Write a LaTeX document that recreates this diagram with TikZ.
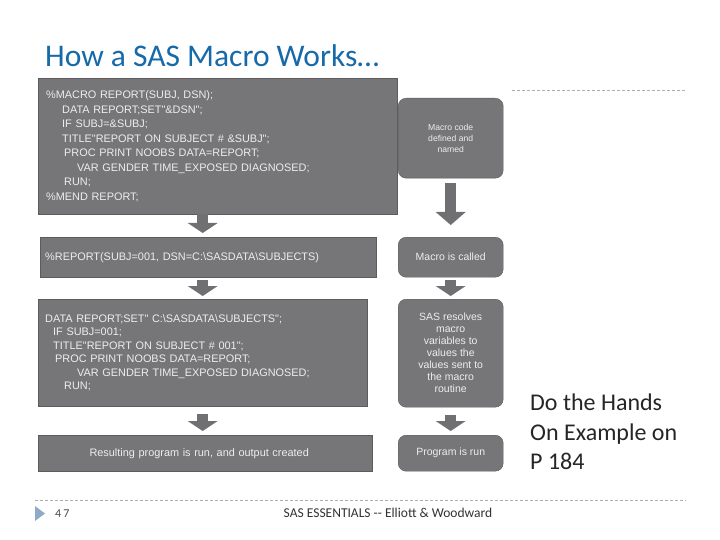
\documentclass[tikz,border=0pt]{standalone}
\usepackage{fontspec}
\setmainfont{Carlito}
\newfontfamily\codefont{Liberation Sans}
\usetikzlibrary{arrows.meta}

\definecolor{boxgray}{RGB}{118,118,120}
\definecolor{boxedge}{RGB}{92,92,94}
\definecolor{arrowgray}{RGB}{112,112,114}
\definecolor{titleblue}{RGB}{23,106,170}
\definecolor{rulegray}{RGB}{175,175,175}
\definecolor{footblue}{RGB}{141,170,200}

\newcommand{\ind}[1]{\hspace*{#1pt}}

\tikzset{
	codebox/.style={draw=boxedge, fill=boxgray, text=white!93!black, anchor=north west,
		inner ysep=0pt, align=left, font=\codefont\fontsize{10.9}{14.5}\selectfont},
	stepbox/.style={draw=boxedge, fill=boxgray, text=white!93!black, anchor=north west,
		rounded corners=8pt, minimum width=105pt, inner sep=0pt, align=center,
		font=\codefont\fontsize{10.5}{12}\selectfont},
	flowarrow/.style={draw=arrowgray, line width=11pt,
		-{Triangle[width=30pt,length=10pt,line width=0pt]}},
}

\begin{document}
\begin{tikzpicture}[x=1pt, y=-1pt]
	\useasboundingbox[fill=white] (0,0) rectangle (720,540);

	% title and side note
	\node[anchor=base west, inner sep=0pt, text=titleblue,
		font=\fontsize{31.5}{33}\selectfont] (title) at (45,67) {How a SAS Macro Works…};
	\node[anchor=north west, inner sep=0pt, align=left, text=black!85,
		font=\fontsize{24}{29.5}\selectfont] (handson) at (530,394)
		{Do the Hands\\On Example on\\P 184};

	% left column: the code
	\node[codebox, inner xsep=8pt, text width=343pt, minimum height=136pt] (macrodef) at (38,78)
		{\%MACRO REPORT(SUBJ, DSN);\\
		\ind{16}DATA REPORT;SET"\&DSN";\\
		\ind{16}IF SUBJ=\&SUBJ;\\
		\ind{16}TITLE"REPORT ON SUBJECT \# \&SUBJ";\\
		\ind{18}PROC PRINT NOOBS DATA=REPORT;\\
		\ind{31}VAR GENDER TIME\_EXPOSED DIAGNOSED;\\
		\ind{18}RUN;\\
		\%MEND REPORT;};
	\node[codebox, inner xsep=5pt, text width=326pt, minimum height=40pt] (invoke) at (40,237)
		{\%REPORT(SUBJ=001, DSN=C:\textbackslash SASDATA\textbackslash SUBJECTS)};
	\node[codebox, inner xsep=7pt, text width=315pt, minimum height=107pt,
		font=\codefont\fontsize{10.9}{13.4}\selectfont] (expanded) at (38,299)
		{DATA REPORT;SET" C:\textbackslash SASDATA\textbackslash SUBJECTS";\\
		\ind{8}IF SUBJ=001;\\
		\ind{8}TITLE"REPORT ON SUBJECT \# 001";\\
		\ind{10}PROC PRINT NOOBS DATA=REPORT;\\
		\ind{32}VAR GENDER TIME\_EXPOSED DIAGNOSED;\\
		\ind{19}RUN;};
	\node[codebox, inner xsep=7pt, text width=320pt, minimum height=36pt, align=center] (output) at (38,435)
		{Resulting program is run, and output created\hspace*{12pt}};

	% right column: the steps
	\node[stepbox, minimum height=80pt, font=\codefont\fontsize{8.6}{11}\selectfont] (defined) at (398,98)
		{Macro code\\defined and\\named};
	\node[stepbox, minimum height=40pt] (called) at (398,237) {Macro is called};
	\node[stepbox, minimum height=108pt] (resolved) at (398,299)
		{SAS resolves\\macro\\variables to\\values the\\values sent to\\the macro\\routine};
	\node[stepbox, minimum height=36pt] (runs) at (398,435) {Program is run};

	% arrows
	\draw[flowarrow, shorten >=4pt] (macrodef.south -| expanded.south) -- (invoke.north -| expanded.south);
	\draw[flowarrow, shorten <=3pt, shorten >=3pt] (invoke.south -| expanded.south) -- (expanded.north);
	\draw[flowarrow, shorten <=8pt, shorten >=4pt] (expanded.south) -- (output.north -| expanded.south);
	\draw[flowarrow, -{Triangle[width=30pt,length=13pt,line width=0pt]}, shorten <=5pt, shorten >=12pt] (defined.south) -- (called.north);
	\draw[flowarrow, shorten <=3pt, shorten >=3pt] (called.south) -- (resolved.north);
	\draw[flowarrow, shorten <=8pt, shorten >=4pt] (resolved.south) -- (runs.north);

	% rules and footer
	\draw[rulegray, dash pattern=on 3pt off 2pt] (512,90) -- (686,90);
	\draw[rulegray, dash pattern=on 3pt off 2pt] (35,500) -- (686,500);
	\fill[footblue] (35,506) -- (45,513.5) -- (35,521) -- cycle;
	\node[anchor=west, inner sep=0pt, text=black!70, font=\fontsize{12}{14}\selectfont] (pagenum) at (55,513.5) {4\,7};
	\node[inner sep=0pt, text=black!80, font=\fontsize{13.5}{15}\selectfont] (footer) at (388,513)
		{SAS ESSENTIALS -{}- Elliott \& Woodward};
\end{tikzpicture}
\end{document}
